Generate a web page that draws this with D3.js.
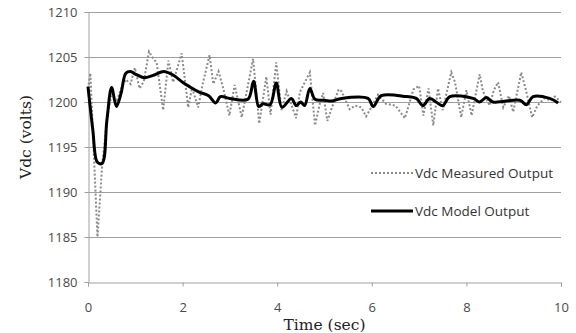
<!DOCTYPE html>
<html>
<head>
<meta charset="utf-8">
<script src="https://cdn.jsdelivr.net/npm/d3@7"></script>
<style>
	body { margin: 0; background: #fff; }
	svg { display: block; }
	.tick text { font-family: "Open Sans", "Liberation Sans", sans-serif; font-size: 13px; fill: #4a4a4a; }
	.title { font-family: "DejaVu Serif", "Liberation Serif", serif; font-size: 15.5px; fill: #222; }
	.legend text { font-family: "Open Sans", "Liberation Sans", sans-serif; font-size: 13.5px; fill: #333; }
</style>
</head>
<body>
<div id="chart"></div>
<script>
// time (sec) and Vdc (volts)
const modelT = [0, 0.1, 0.2, 0.3, 0.4, 0.5, 0.6, 0.7, 0.8, 0.9, 1.0, 1.2, 1.4, 1.6, 1.8, 2.0, 2.15, 2.35, 2.55, 2.7, 2.8, 3.0, 3.38, 3.5, 3.61, 3.7, 3.85, 3.98, 4.1, 4.3, 4.4, 4.5, 4.58, 4.69, 4.8, 5.0, 5.15, 5.36, 5.92, 6.03, 6.2, 6.73, 6.94, 7.08, 7.22, 7.36, 7.5, 7.65, 8.14, 8.28, 8.42, 8.56, 9.13, 9.27, 9.41, 9.76, 9.94];
const modelV = [1201.7, 1197, 1193.3, 1193.2, 1198, 1201.6, 1199.5, 1201, 1203.2, 1203.4, 1203.1, 1202.7, 1203, 1203.4, 1203, 1202.2, 1201.7, 1201.1, 1200.7, 1199.9, 1200.6, 1200.4, 1200.3, 1202.3, 1199.5, 1199.8, 1199.7, 1202.1, 1199.4, 1200.4, 1199.6, 1200, 1199.6, 1201.5, 1200.3, 1200.2, 1200.1, 1200.4, 1200.4, 1199.5, 1200.7, 1200.6, 1200.4, 1199.6, 1200.4, 1200, 1199.6, 1200.6, 1200.4, 1200, 1200.5, 1200, 1200.2, 1199.7, 1200.6, 1200.4, 1199.9];

const measT = [0, 0.05, 0.2, 0.3, 0.4, 0.5, 0.6, 0.7, 0.8, 0.9, 0.99, 1.09, 1.18, 1.29, 1.38, 1.45, 1.59, 1.7, 1.8, 1.98, 2.12, 2.2, 2.33, 2.42, 2.57, 2.65, 2.76, 2.86, 2.99, 3.1, 3.25, 3.49, 3.62, 3.77, 3.86, 3.98, 4.09, 4.2, 4.34, 4.4, 4.48, 4.69, 4.8, 4.9, 4.97, 5.06, 5.15, 5.3, 5.36, 5.53, 5.65, 5.78, 5.88, 6.0, 6.13, 6.3, 6.5, 6.7, 6.88, 7.0, 7.09, 7.2, 7.3, 7.4, 7.5, 7.68, 7.76, 7.89, 8.0, 8.11, 8.28, 8.35, 8.49, 8.58, 8.67, 8.78, 8.9, 8.99, 9.16, 9.25, 9.39, 9.5, 9.65, 9.78, 9.87, 10];
const measV = [1201.5, 1203.2, 1185, 1193, 1198, 1201, 1200, 1201.5, 1202.5, 1202, 1203.8, 1201.5, 1202.3, 1205.6, 1204.8, 1204.4, 1199.1, 1204.6, 1202.2, 1205.4, 1199.4, 1201.6, 1199.4, 1201.9, 1205.2, 1202, 1203.4, 1201.5, 1198.5, 1201.9, 1198.3, 1204.8, 1197.6, 1202.8, 1198.6, 1204.4, 1199.1, 1201.2, 1199.1, 1198.2, 1201.1, 1203.3, 1197.4, 1199.8, 1201, 1197.9, 1199.3, 1201.4, 1201.2, 1199.2, 1199.6, 1199.4, 1198.4, 1199.5, 1200.8, 1199.8, 1199.6, 1198.2, 1201.4, 1201.8, 1198.5, 1201.5, 1197.4, 1201.5, 1199.1, 1203.3, 1202.2, 1198.3, 1201.3, 1198.5, 1203.1, 1201.2, 1199.6, 1201.3, 1202.2, 1199.4, 1200.7, 1198.9, 1203.3, 1201.5, 1198.3, 1199.6, 1200.4, 1200.2, 1200.6, 1200];

const xTicks = [0, 2, 4, 6, 8, 10];
const yTicks = [1180, 1185, 1190, 1195, 1200, 1205, 1210];
const seriesNames = ['Vdc Measured Output', 'Vdc Model Output'];

const width = 576, height = 333;
const margin = { top: 12, right: 15, bottom: 51, left: 88 };

const svg = d3.select('#chart').append('svg')
	.attr('width', width)
	.attr('height', height);

const x = d3.scaleLinear().domain([0, 10]).range([margin.left, width - margin.right]);
const y = d3.scaleLinear().domain([1180, 1210]).range([height - margin.bottom, margin.top]);

// gridlines
svg.append('g')
	.selectAll('line')
	.data(yTicks.slice(1))
	.enter()
	.append('line')
	.attr('x1', x(0))
	.attr('x2', x(10))
	.attr('y1', d => y(d) + 0.5)
	.attr('y2', d => y(d) + 0.5)
	.attr('stroke', '#a0a0a0')
	.attr('stroke-width', 1);

let xAxis = svg.append('g')
	.attr('transform', 'translate(0,' + (y(1180) + 0.5) + ')')
	.call(d3.axisBottom(x).tickValues(xTicks).tickSize(4).tickPadding(16));

let yAxis = svg.append('g')
	.attr('transform', 'translate(' + (x(0) + 0.5) + ',0)')
	.call(d3.axisLeft(y).tickValues(yTicks).tickSize(4).tickPadding(7).tickFormat(d3.format('d')));

[xAxis, yAxis].forEach(a => {
	a.selectAll('path, line').attr('stroke', '#a0a0a0');
});

const measured = measT.map((t, i) => [t, measV[i]]);
const model = modelT.map((t, i) => [t, modelV[i]]);

svg.append('path')
	.datum(measured)
	.attr('fill', 'none')
	.attr('stroke', '#8a8a8a')
	.attr('stroke-width', 2)
	.attr('stroke-dasharray', '2 2')
	.attr('d', d3.line().x(d => x(d[0])).y(d => y(d[1])));

svg.append('path')
	.datum(model)
	.attr('fill', 'none')
	.attr('stroke', '#000')
	.attr('stroke-width', 3)
	.attr('stroke-linejoin', 'round')
	.attr('d', d3.line().curve(d3.curveCatmullRom.alpha(0.5)).x(d => x(d[0])).y(d => y(d[1])));

// axis titles
svg.append('text')
	.attr('class', 'title')
	.attr('x', (x(0) + x(10)) / 2)
	.attr('y', 330)
	.attr('text-anchor', 'middle')
	.text('Time (sec)');

svg.append('text')
	.attr('class', 'title')
	.attr('transform', 'translate(31,' + 137 + ') rotate(-90)')
	.attr('text-anchor', 'middle')
	.text('Vdc (volts)');

// legend
let legend = svg.append('g').attr('class', 'legend');
let styles = [
	{ stroke: '#8a8a8a', width: 2, dash: '2 2', yPos: 173 },
	{ stroke: '#000', width: 3, dash: null, yPos: 211 }
];
let items = legend.selectAll('g')
	.data(seriesNames)
	.enter()
	.append('g')
	.attr('transform', (d, i) => 'translate(371,' + styles[i].yPos + ')');

items.append('line')
	.attr('x1', 0)
	.attr('x2', 42)
	.attr('stroke', (d, i) => styles[i].stroke)
	.attr('stroke-width', (d, i) => styles[i].width)
	.attr('stroke-dasharray', (d, i) => styles[i].dash);

items.append('text')
	.attr('x', 44)
	.attr('y', 5)
	.text(d => d);
</script>
</body>
</html>
